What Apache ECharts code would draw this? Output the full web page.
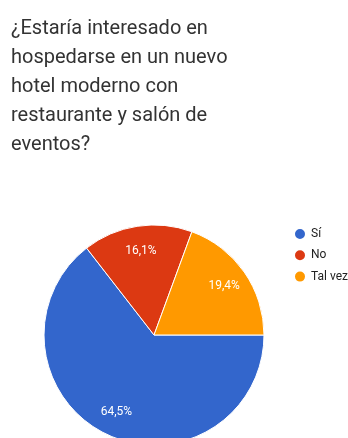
<!DOCTYPE html>
<html>
<head>
<meta charset="utf-8">
<script src="https://cdn.jsdelivr.net/npm/echarts@6/dist/echarts.min.js"></script>
<style>
  html, body { margin: 0; padding: 0; background: #fff; }
  #chart { width: 348px; height: 438px; }
</style>
</head>
<body>
<div id="chart"></div>
<script>
// Survey question and answers
const question = '¿Estaría interesado en\nhospedarse en un nuevo\nhotel moderno con\nrestaurante y salón de\neventos?';
const answers = ['Sí', 'No', 'Tal vez'];
const shares = [64.5, 16.1, 19.4];
const sliceColors = ['#3366cc', '#dc3912', '#ff9900'];

const pieData = answers.map((name, i) => ({ name: name, value: shares[i] }));
const fmtPct = p => p.value.toFixed(1).replace('.', ',') + '%';

const chart = echarts.init(document.getElementById('chart'), null, { renderer: 'canvas' });
chart.setOption({
  backgroundColor: '#ffffff',
  animation: false,
  color: sliceColors,
  title: {
    text: question,
    left: 6,
    top: 9,
    textStyle: {
      fontFamily: 'Roboto',
      fontSize: 20,
      fontWeight: 'normal',
      color: '#333333',
      lineHeight: 29
    }
  },
  legend: {
    orient: 'vertical',
    left: 288,
    top: 222,
    icon: 'circle',
    itemWidth: 12,
    itemHeight: 12,
    itemGap: 7.3,
    data: answers,
    textStyle: { fontFamily: 'Roboto', fontSize: 12, color: '#222222' }
  },
  series: [
    {
      type: 'pie',
      center: [154, 335],
      radius: [0, 110],
      startAngle: 0,
      clockwise: true,
      silent: true,
      data: pieData,
      itemStyle: { borderColor: '#ffffff', borderWidth: 1 },
      label: { show: false },
      labelLine: { show: false }
    },
    {
      // transparent ring that only carries the percentage labels
      type: 'pie',
      center: [154, 335],
      radius: [55, 110],
      startAngle: 0,
      clockwise: true,
      silent: true,
      legendHoverLink: false,
      data: pieData,
      itemStyle: { color: 'rgba(0,0,0,0)' },
      label: {
        show: true,
        position: 'inside',
        formatter: fmtPct,
        color: '#ffffff',
        fontFamily: 'Roboto',
        fontSize: 12
      },
      labelLine: { show: false }
    }
  ]
});
</script>
</body>
</html>
